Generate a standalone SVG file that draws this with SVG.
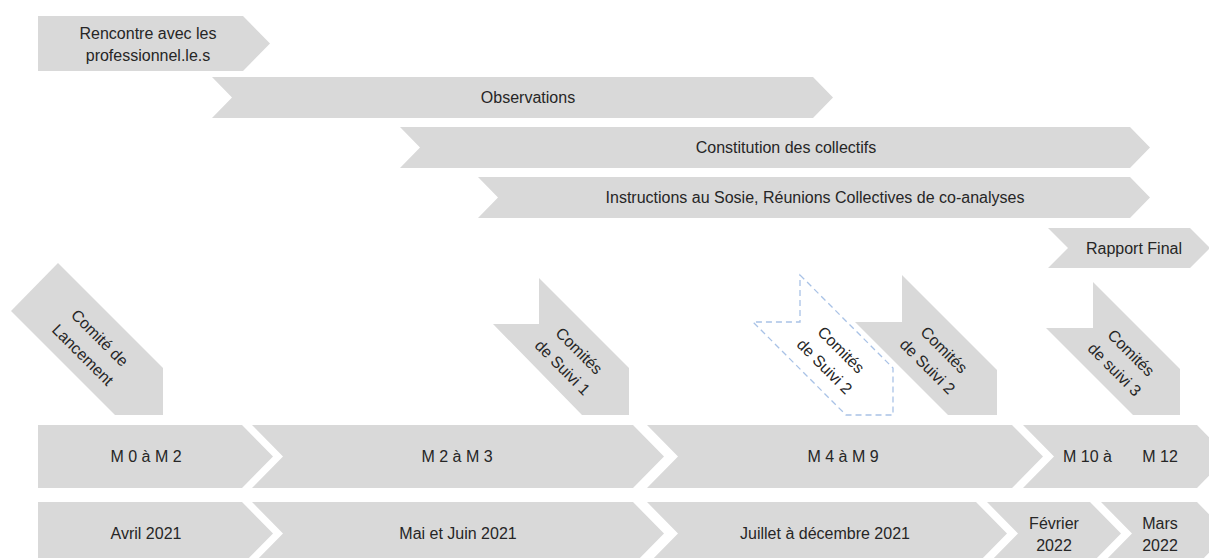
<svg xmlns="http://www.w3.org/2000/svg" width="1209" height="558" viewBox="0 0 1209 558">
<style>
.s{fill:#d9d9d9;stroke:none}
.d{fill:#ffffff;stroke:#a9c2e6;stroke-width:1.3;stroke-dasharray:6 4}
text{font-family:"Liberation Sans",Arial,sans-serif;font-size:16px;fill:#262626;text-anchor:middle}
</style>
<rect width="1209" height="558" fill="#ffffff"/>
<g id="phases">
<g id="rencontre"><polygon class="s" points="38,16 243,16 270,43.5 243,71 38,71"/><text x="148" y="39">Rencontre avec les</text><text x="148" y="61">professionnel.le.s</text></g>
<g id="observations"><polygon class="s" points="212,77 813,77 833,97.5 813,118 212,118 232,97.5"/><text x="528" y="103">Observations</text></g>
<g id="constitution"><polygon class="s" points="400,127 1130,127 1150,147.5 1130,168 400,168 420,147.5"/><text x="786" y="153">Constitution des collectifs</text></g>
<g id="instructions"><polygon class="s" points="478,177 1130,177 1150,197.5 1130,218 478,218 498,197.5"/><text x="815" y="203">Instructions au Sosie, Réunions Collectives de co-analyses</text></g>
<g id="rapport"><polygon class="s" points="1048,228 1190,228 1210,248 1190,268 1048,268 1068,248"/><text x="1134" y="253.5">Rapport Final</text></g>
</g>
<g id="comites">
<g id="lancement"><polygon class="s" points="58,263 163,368 163,415 115,415 11,311"/><g transform="translate(92,347) rotate(45)"><text x="-1" y="-6.5">Comité de</text><text x="-1" y="17.5">Lancement</text></g></g>
<g id="suivi1"><polygon class="s" points="539,278 629,368 629,415 582,415 493,324 539,324"/><g transform="translate(571,359) rotate(45)"><text x="0" y="-6">Comités</text><text x="0" y="17.5">de Suivi 1</text></g></g>
<g id="suivi2a"><polygon class="d" points="800,275 893,368 893,415 846,415 753,322 800,322"/><g transform="translate(833,358) rotate(45)"><text x="0" y="-6">Comités</text><text x="0" y="17.5">de Suivi 2</text></g></g>
<g id="suivi2b"><polygon class="s" points="902,275 997,370 997,415 948,415 855,322 902,322"/><g transform="translate(936,358) rotate(45)"><text x="0" y="-6">Comités</text><text x="0" y="17.5">de Suivi 2</text></g></g>
<g id="suivi3"><polygon class="s" points="1093,282 1180,369 1180,415 1133,415 1046,328 1093,328"/><g transform="translate(1123,361) rotate(45)"><text x="0" y="-6">Comités</text><text x="0" y="17.5">de suivi 3</text></g></g>
</g>
<g id="months">
<g id="m0"><polygon class="s" points="38,425 242,425 273,456.5 242,488 38,488"/><text x="146" y="462">M 0 à M 2</text></g>
<g id="m2"><polygon class="s" points="252,425 633,425 664,456.5 633,488 252,488 283,456.5"/><text x="457" y="462">M 2 à M 3</text></g>
<g id="m4"><polygon class="s" points="647,425 1012,425 1043,456.5 1012,488 647,488 678,456.5"/><text x="843" y="462">M 4 à M 9</text></g>
<g id="m10"><polygon class="s" points="1023,425 1197,425 1228,456.5 1197,488 1023,488 1054,456.5"/><text x="1087.5" y="462">M 10 à</text><text x="1160" y="462">M 12</text></g>
</g>
<g id="dates">
<g id="avril"><polygon class="s" points="38,502 242,502 273,533.5 242,565 38,565"/><text x="146" y="539">Avril 2021</text></g>
<g id="maijuin"><polygon class="s" points="252,502 633,502 664,533.5 633,565 252,565 283,533.5"/><text x="458" y="539">Mai et Juin 2021</text></g>
<g id="juillet"><polygon class="s" points="647,502 976,502 1007,533.5 976,565 647,565 678,533.5"/><text x="825" y="539">Juillet à décembre 2021</text></g>
<g id="fevrier"><polygon class="s" points="987,502 1090,502 1121,533.5 1090,565 987,565 1018,533.5"/><text x="1054" y="529">Février</text><text x="1054" y="551">2022</text></g>
<g id="mars"><polygon class="s" points="1101,502 1197,502 1228,533.5 1197,565 1101,565 1132,533.5"/><text x="1160" y="529">Mars</text><text x="1160" y="551">2022</text></g>
</g>
<g id="connectors"></g>
</svg>
